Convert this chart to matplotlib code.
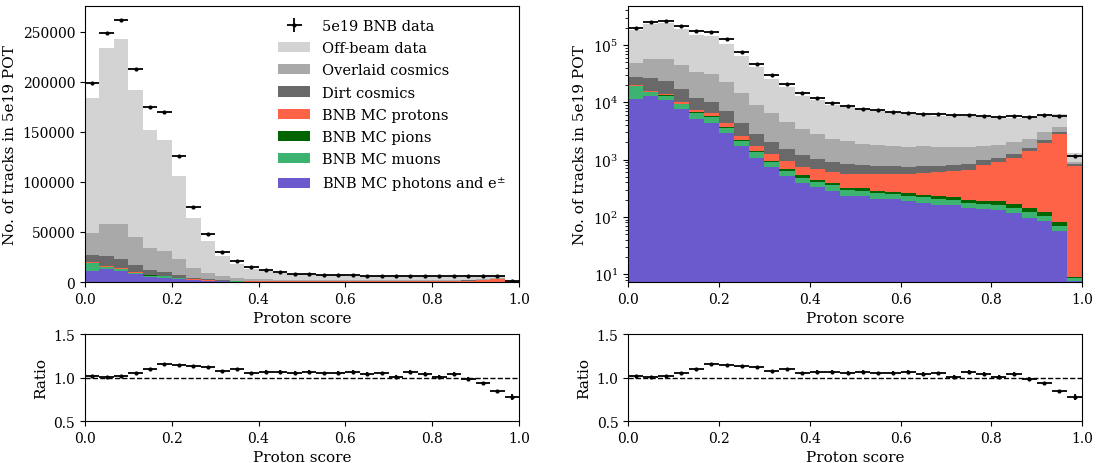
import numpy as np
import matplotlib
matplotlib.use("Agg")
from matplotlib import pyplot as plt

plt.rcParams['font.family'] = ['DejaVu Serif']
plt.rcParams['mathtext.fontset'] = 'dejavuserif'

edges = np.linspace(0, 1, 31)

# counts per bin for every stacked sample (bottom to top)
photons = [11300, 12700, 11000, 7550, 5060, 4310, 2890, 1740, 1070, 741,
           516, 390, 333, 283, 232, 232, 206, 206, 190, 175,
           162, 162, 145, 138, 132, 117, 96, 85, 57, 7.5]
muons = [7700, 2400, 1700, 1680, 1380, 1240, 680, 380, 280, 165,
         122, 86, 73, 73, 63, 55, 52, 45, 42, 48,
         44, 36, 30, 30, 28, 27, 26, 19, 13, 1.2]
pions = [500, 100, 500, 70, 260, 230, 150, 90, 70, 36,
         46, 61, 34, 34, 24, 32, 25, 21, 26, 18,
         23, 22, 23, 22, 30, 24, 22, 18, 12, 0.4]
protons = [800, 500, 600, 700, 560, 660, 590, 390, 320, 318,
           258, 204, 244, 217, 241, 241, 277, 288, 302, 341,
           378, 411, 459, 611, 716, 892, 1266, 1818, 2688, 762]
dirt = [6900, 10400, 9400, 6800, 4440, 3560, 2660, 1710, 1030, 750,
        578, 459, 336, 299, 275, 241, 211, 211, 181, 189,
        164, 170, 178, 179, 154, 190, 180, 240, 240, 64]
overlaid = [21500, 31600, 34500, 27700, 22300, 21000, 16000, 10000, 6300, 4430,
            2970, 2190, 1750, 1364, 1265, 1059, 1019, 949, 909, 949,
            879, 849, 815, 740, 730, 760, 680, 830, 660, 71]
offbeam = [135000, 176000, 185000, 147500, 117700, 110700, 82700, 49400, 31600, 19560,
           13710, 9610, 8030, 6850, 6180, 5600, 5180, 4980, 4700, 4220,
           4220, 4060, 4060, 3830, 3610, 3390, 3130, 3170, 2680, 424]

data = [199000, 249000, 262000, 212500, 175000, 170000, 126200, 75000, 47500, 29800,
        20600, 14800, 11700, 9890, 8520, 7650, 7260, 6890, 6610, 6350,
        6180, 6010, 5940, 5780, 5640, 5710, 5640, 6010, 5780, 1140]

ratio = [1.023, 1.004, 1.019, 1.053, 1.102, 1.152, 1.144, 1.129, 1.117, 1.080,
         1.095, 1.049, 1.068, 1.068, 1.057, 1.068, 1.049, 1.057, 1.068, 1.042,
         1.049, 1.011, 1.064, 1.045, 1.011, 1.038, 0.985, 0.932, 0.845, 0.773]

samples = [photons, muons, pions, protons, dirt, overlaid, offbeam]
labels = ['BNB MC photons and e$^{\\pm}$', 'BNB MC muons', 'BNB MC pions',
          'BNB MC protons', 'Dirt cosmics', 'Overlaid cosmics', 'Off-beam data']
colors = ['slateblue', 'mediumseagreen', 'darkgreen', 'tomato',
          'dimgray', 'darkgray', 'lightgray']

centers = 0.5 * (edges[1:] + edges[:-1])
width = edges[1] - edges[0]
data = np.array(data)
ratio = np.array(ratio)

fig = plt.figure(figsize=(11.02, 4.64), dpi=100)
ax_lin = fig.add_axes([0.077, 0.390, 0.394, 0.595])
ax_log = fig.add_axes([0.570, 0.390, 0.412, 0.595])
ax_rl = fig.add_axes([0.077, 0.0905, 0.394, 0.1875])
ax_rr = fig.add_axes([0.570, 0.0905, 0.412, 0.1875])


def draw_stack(ax):
    bottom = np.zeros(len(centers))
    handles = []
    for vals, lab, col in zip(samples, labels, colors):
        vals = np.array(vals, dtype=float)
        b = ax.bar(edges[:-1], vals, width=width, bottom=bottom, align='edge',
                   color=col, linewidth=0, label=lab)
        handles.append(b)
        bottom = bottom + vals
    d = ax.errorbar(centers, data, xerr=width / 2, yerr=np.sqrt(data),
                    fmt='.', color='k', markersize=4, elinewidth=1.3,
                    label='5e19 BNB data')
    ax.set_xlim(0, 1)
    ax.set_xlabel('Proton score', fontsize=11)
    ax.set_ylabel('No. of tracks in 5e19 POT', fontsize=11)
    ax.tick_params(labelsize=10)
    return handles, d


handles, dh = draw_stack(ax_lin)
ax_lin.set_ylim(0, 275700)
ax_lin.legend([dh] + handles[::-1], ['5e19 BNB data'] + labels[::-1],
              loc='upper right', frameon=False, fontsize=10.5,
              handlelength=2.2, labelspacing=0.56)

draw_stack(ax_log)
ax_log.set_yscale('log')
ax_log.set_ylim(7.3, 4.8e5)

for ax in (ax_rl, ax_rr):
    ax.errorbar(centers, ratio, xerr=width / 2, yerr=ratio / np.sqrt(data) * 1.5,
                fmt='.', color='k', markersize=4, elinewidth=1.3)
    ax.axhline(1.0, color='k', linestyle='--', linewidth=1)
    ax.set_xlim(0, 1)
    ax.set_ylim(0.5, 1.5)
    ax.set_yticks([0.5, 1.0, 1.5])
    ax.set_xlabel('Proton score', fontsize=11)
    ax.set_ylabel('Ratio', fontsize=11)
    ax.tick_params(labelsize=10)

fig.savefig('out.png', dpi=100)
